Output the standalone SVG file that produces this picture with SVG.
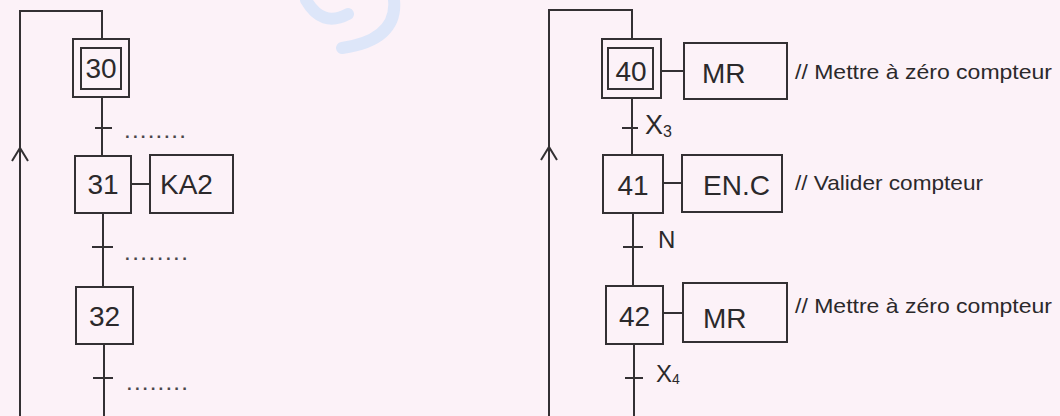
<svg xmlns="http://www.w3.org/2000/svg" width="1060" height="416" viewBox="0 0 1060 416">
  <style>
    .ln { fill: none; stroke: #333033; stroke-width: 2; }
    .box { fill: none; stroke: #333033; stroke-width: 2; }
    .num { font-family: "Liberation Sans", Arial, sans-serif; font-size: 28px; fill: #2b292b; text-anchor: middle; }
    .act { font-family: "Liberation Sans", Arial, sans-serif; font-size: 28px; fill: #2b292b; }
    .cmt { font-family: "Liberation Sans", Arial, sans-serif; font-size: 21px; fill: #2b292b; }
    .dots { font-family: "Liberation Sans", Arial, sans-serif; font-size: 17px; font-weight: bold; fill: #4a464a; }
    .cond { font-family: "Liberation Sans", Arial, sans-serif; fill: #2b292b; }
  </style>
  <rect x="0" y="0" width="1060" height="416" fill="#fcf2f8"/>
  <!-- watermark -->
  <g fill="none" stroke="#dde6f9" stroke-width="12" stroke-linecap="round">
    <path d="M 306 0 Q 322 28 348 14"/>
    <path d="M 394 0 Q 398 40 342 48"/>
  </g>

  <g id="connectors">
    <!-- left graph -->
    <path class="ln" d="M 20 416 V 11 H 102 V 39"/>
    <polyline class="ln" points="12,161 20,148 28,161"/>
    <path class="ln" d="M 102 97 V 156"/>
    <path class="ln" d="M 95 128 H 112"/>
    <path class="ln" d="M 131 184 H 150"/>
    <path class="ln" d="M 103 213 V 287"/>
    <path class="ln" d="M 92 247 H 113"/>
    <path class="ln" d="M 104 344 V 416"/>
    <path class="ln" d="M 93 378 H 113"/>
    <!-- right graph -->
    <path class="ln" d="M 549 416 V 10 H 632 V 39"/>
    <polyline class="ln" points="541,160 549,147 557,160"/>
    <path class="ln" d="M 661 71 H 684"/>
    <path class="ln" d="M 632 98 V 155"/>
    <path class="ln" d="M 622 128 H 638"/>
    <path class="ln" d="M 663 183 H 682"/>
    <path class="ln" d="M 633 213 V 286"/>
    <path class="ln" d="M 623 247 H 643"/>
    <path class="ln" d="M 663 313 H 683"/>
    <path class="ln" d="M 634 344 V 416"/>
    <path class="ln" d="M 625 378 H 643"/>
  </g>

  <!-- left graph -->
  <g id="step30">
    <rect class="box" x="73" y="39" width="56" height="58"/>
    <rect class="box" x="81" y="48" width="40" height="41"/>
    <text class="num" x="101" y="78">30</text>
  </g>
  <g id="cond30">
    <text class="dots" x="125" y="138" textLength="60" lengthAdjust="spacing">........</text>
  </g>
  <g id="step31">
    <rect class="box" x="75" y="156" width="56" height="57"/>
    <text class="num" x="103" y="194">31</text>
  </g>
  <g id="action31">
    <rect class="box" x="150" y="155" width="83" height="58"/>
    <text class="act" x="160" y="194">KA2</text>
  </g>
  <g id="cond31">
    <text class="dots" x="125" y="260" textLength="62" lengthAdjust="spacing">........</text>
  </g>
  <g id="step32">
    <rect class="box" x="76" y="287" width="57" height="57"/>
    <text class="num" x="104.5" y="326">32</text>
  </g>
  <g id="cond32">
    <text class="dots" x="127" y="390" textLength="60" lengthAdjust="spacing">........</text>
  </g>

  <!-- right graph -->
  <g id="step40">
    <rect class="box" x="602" y="39" width="59" height="59"/>
    <rect class="box" x="608" y="48" width="45" height="41"/>
    <text class="num" x="631" y="81">40</text>
  </g>
  <g id="action40">
    <rect class="box" x="684" y="43" width="103" height="56"/>
    <text class="act" x="702" y="83">MR</text>
    <text class="cmt" x="795" y="79" textLength="257" lengthAdjust="spacingAndGlyphs">// Mettre à zéro compteur</text>
  </g>
  <g id="cond40">
    <text class="cond" x="645" y="134" font-size="27">X<tspan font-size="16" dy="3">3</tspan></text>
  </g>
  <g id="step41">
    <rect class="box" x="603" y="155" width="60" height="58"/>
    <text class="num" x="633" y="195">41</text>
  </g>
  <g id="action41">
    <rect class="box" x="682" y="155" width="100" height="57"/>
    <text class="act" x="703" y="195">EN.C</text>
    <text class="cmt" x="795" y="190" textLength="188" lengthAdjust="spacingAndGlyphs">// Valider compteur</text>
  </g>
  <g id="cond41">
    <text class="cond" x="658" y="248" font-size="24">N</text>
  </g>
  <g id="step42">
    <rect class="box" x="606" y="286" width="57" height="58"/>
    <text class="num" x="634.5" y="326">42</text>
  </g>
  <g id="action42">
    <rect class="box" x="683" y="283" width="104" height="59"/>
    <text class="act" x="703" y="328">MR</text>
    <text class="cmt" x="795" y="313" textLength="257" lengthAdjust="spacingAndGlyphs">// Mettre à zéro compteur</text>
  </g>
  <g id="cond42">
    <text class="cond" x="656" y="382" font-size="24">X<tspan font-size="14" dy="2">4</tspan></text>
  </g>
</svg>
